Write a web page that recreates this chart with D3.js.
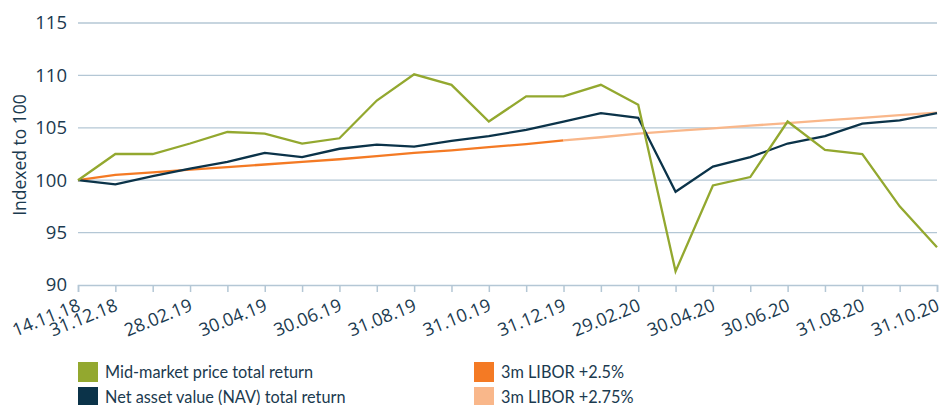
<!DOCTYPE html>
<html><head><meta charset="utf-8">
<script src="https://cdn.jsdelivr.net/npm/d3@7"></script>
<style>body{margin:0;background:#fff}svg{display:block}</style>
</head><body><div id="chart"></div>
<script>
const dates = ["14.11.18","31.12.18","31.01.19","28.02.19","31.03.19","30.04.19","31.05.19","30.06.19","31.07.19","31.08.19","30.09.19","31.10.19","30.11.19","31.12.19","31.01.20","29.02.20","31.03.20","30.04.20","31.05.20","30.06.20","31.07.20","31.08.20","30.09.20","31.10.20"];
const tickLabels = ["14.11.18","31.12.18","28.02.19","30.04.19","30.06.19","31.08.19","31.10.19","31.12.19","29.02.20","30.04.20","30.06.20","31.08.20","31.10.20"];
const midMarket = [100,102.5,102.5,103.5,104.6,104.45,103.5,104.0,107.6,110.1,109.1,105.6,108.0,108.0,109.1,107.2,91.3,99.5,100.3,105.6,102.9,102.5,97.5,93.6];
const nav = [100,99.6,100.4,101.1,101.75,102.6,102.2,103.0,103.4,103.2,103.75,104.2,104.8,105.6,106.4,105.95,98.9,101.3,102.2,103.5,104.2,105.4,105.7,106.4];
const libor25 = [100,100.5,100.75,101.0,101.25,101.5,101.75,102.0,102.3,102.6,102.85,103.15,103.45,103.8];
const libor275 = [103.8,104.1,104.45,104.7,104.95,105.2,105.45,105.7,105.95,106.2,106.45];
const yTicks = [90,95,100,105,110,115];
const legendItems = [
  {label:"Mid-market price total return", color:"#93a82f"},
  {label:"Net asset value (NAV) total return", color:"#0b3349"},
  {label:"3m LIBOR +2.5%", color:"#f47a24"},
  {label:"3m LIBOR +2.75%", color:"#f9b78a"}
];

const W=944,H=405;
const svg=d3.select("#chart").append("svg").attr("width",W).attr("height",H);
const x=d3.scalePoint().domain(dates).range([78,937]);
const y=d3.scaleLinear().domain([90,115]).range([285,23]);
const txt="#1b3a4f", grid="#b4c7d5";
const font="'Open Sans', sans-serif";

// grid
svg.append("g").selectAll("line").data(yTicks.filter(d=>d>90)).join("line")
  .attr("x1",78).attr("x2",937).attr("y1",d=>y(d)).attr("y2",d=>y(d))
  .attr("stroke",grid).attr("stroke-width",1.3);

// y axis
const ya=svg.append("g").attr("transform","translate(78,0)")
  .call(d3.axisLeft(y).tickValues(yTicks).tickSize(0).tickPadding(11));
ya.select(".domain").remove();
ya.selectAll("text").attr("font-family",font).attr("font-size",18.5).attr("fill",txt);

// x axis
const xa=svg.append("g").attr("transform","translate(0,285)")
  .call(d3.axisBottom(x).tickSize(7).tickFormat(d=>tickLabels.includes(d)?d:""));
xa.select(".domain").attr("stroke",grid).attr("stroke-width",1.5);
xa.selectAll(".tick line").attr("stroke",grid).attr("stroke-width",1.5);
xa.selectAll("text").attr("font-family",font).attr("font-size",18).attr("fill",txt)
  .attr("text-anchor","end").attr("dy",0).attr("y",0)
  .attr("transform","translate(3,25) rotate(-22)");

// axis title
svg.append("text").attr("transform","translate(26,155) rotate(-90)")
  .attr("text-anchor","middle").attr("font-family",font).attr("font-size",17.5)
  .attr("fill",txt).text("Indexed to 100");

const line=d3.line().x(d=>x(d[0])).y(d=>y(d[1]));
const pairs=(arr,off)=>arr.map((v,i)=>[dates[i+off],v]);
svg.append("path").attr("d",line(pairs(libor25,0))).attr("fill","none").attr("stroke","#f47a24").attr("stroke-width",2.3);
svg.append("path").attr("d",line(pairs(libor275,13))).attr("fill","none").attr("stroke","#f9b78a").attr("stroke-width",2.3);
svg.append("path").attr("d",line(pairs(nav,0))).attr("fill","none").attr("stroke","#0b3349").attr("stroke-width",2.3);
svg.append("path").attr("d",line(pairs(midMarket,0))).attr("fill","none").attr("stroke","#93a82f").attr("stroke-width",2.3);

// legend
const lg=svg.append("g");
legendItems.forEach((d,i)=>{
  const col=Math.floor(i/2), row=i%2;
  const lx=78+col*396, ly=362+row*25;
  lg.append("rect").attr("x",lx).attr("y",ly).attr("width",20).attr("height",20).attr("fill",d.color);
  lg.append("text").attr("x",lx+27).attr("y",ly+16).attr("font-family","Lato, sans-serif")
    .attr("font-size",16.3).attr("fill",txt).text(d.label);
});
</script></body></html>
